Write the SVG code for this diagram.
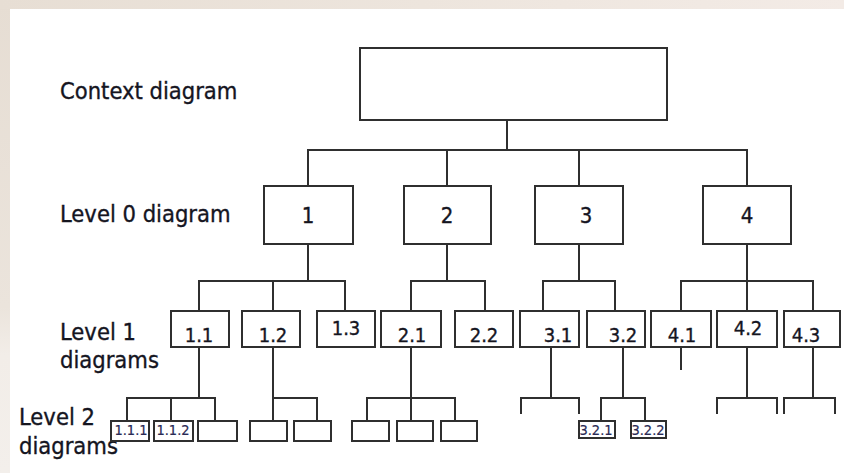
<svg xmlns="http://www.w3.org/2000/svg" width="844" height="473" viewBox="0 0 844 473">
  <defs>
    <linearGradient id="topStrip" x1="0" y1="0" x2="1" y2="0">
      <stop offset="0" stop-color="#e7ded4"/>
      <stop offset="0.5" stop-color="#ede5dd"/>
      <stop offset="1" stop-color="#f3ebe6"/>
    </linearGradient>
    <linearGradient id="leftStrip" x1="0" y1="0" x2="0" y2="1">
      <stop offset="0" stop-color="#e6ddd3"/>
      <stop offset="0.65" stop-color="#ebe4dc"/>
      <stop offset="0.75" stop-color="#f2ede8"/>
      <stop offset="1" stop-color="#f3efeb"/>
    </linearGradient>
    <style>
      .box { fill: #ffffff; stroke: #2f2f2f; stroke-width: 2; }
      .conn { fill: none; stroke: #2f2f2f; stroke-width: 2; stroke-linecap: square; }
      text { font-family: "DejaVu Sans", Verdana, sans-serif; font-stretch: condensed; fill: #15151f; stroke: #15151f; stroke-width: 0.35; }
      .side { font-size: 23.5px; }
      .l0 { font-size: 22px; text-anchor: middle; }
      .l1 { font-size: 20px; text-anchor: middle; }
      .l2 { font-size: 14.5px; text-anchor: middle; fill: #2a2a55; stroke: #2a2a55; stroke-width: 0.2; }
    </style>
  </defs>

  <!-- background -->
  <rect x="0" y="0" width="844" height="473" fill="url(#leftStrip)"/>
  <rect x="0" y="0" width="844" height="9" fill="url(#topStrip)"/>
  <rect x="10" y="9" width="834" height="464" fill="#ffffff"/>

  <!-- side labels -->
  <g id="level-labels">
    <text class="side" x="60" y="99">Context diagram</text>
    <text class="side" x="60" y="222">Level 0 diagram</text>
    <text class="side" x="60" y="340">Level 1</text>
    <text class="side" x="60" y="368">diagrams</text>
    <text class="side" x="19" y="425">Level 2</text>
    <text class="side" x="19" y="454">diagrams</text>
  </g>

  <!-- connectors -->
  <g id="connectors" class="conn">
    <path d="M507 120 V150 M308 150 H747 M308 150 V186 M447 150 V186 M579 150 V186 M747 150 V186"/>
    <path d="M308 244 V281 M199 281 H345 M199 281 V311 M273 281 V311 M345 281 V311"/>
    <path d="M447 244 V281 M411 281 H485 M411 281 V311 M485 281 V311"/>
    <path d="M579 244 V281 M543 281 H615 M543 281 V311 M615 281 V311"/>
    <path d="M747 244 V281 M681 281 H813 M681 281 V311 M747 281 V311 M813 281 V311"/>
    <path d="M199 347 V398 M127 398 H215 M127 398 V421 M171 398 V421 M215 398 V421"/>
    <path d="M273 347 V421 M273 398 H317 M317 398 V421"/>
    <path d="M411 347 V398 M367 398 H455 M367 398 V421 M411 398 V421 M455 398 V421"/>
    <path d="M551 347 V398 M521 398 H579 M521 398 V413 M579 398 V413"/>
    <path d="M623 347 V398 M601 398 H645 M601 398 V421 M645 398 V421"/>
    <path d="M681 347 V369"/>
    <path d="M747 347 V398 M717 398 H777 M717 398 V413 M777 398 V413"/>
    <path d="M813 347 V398 M784 398 H835 M784 398 V413 M835 398 V413"/>
  </g>

  <!-- context -->
  <g id="context"><rect class="box" x="360" y="48" width="307" height="72"/></g>

  <!-- level 0 -->
  <g id="n1"><rect class="box" x="264" y="186" width="89" height="58"/><text class="l0" x="308" y="223">1</text></g>
  <g id="n2"><rect class="box" x="404" y="186" width="87" height="58"/><text class="l0" x="447" y="223">2</text></g>
  <g id="n3"><rect class="box" x="535" y="186" width="88" height="58"/><text class="l0" x="586" y="223">3</text></g>
  <g id="n4"><rect class="box" x="703" y="186" width="88" height="58"/><text class="l0" x="747" y="223">4</text></g>

  <!-- level 1 -->
  <g id="n1-1"><rect class="box" x="171" y="311" width="58" height="36"/><text class="l1" x="199" y="342">1.1</text></g>
  <g id="n1-2"><rect class="box" x="242" y="311" width="58" height="36"/><text class="l1" x="273" y="342">1.2</text></g>
  <g id="n1-3"><rect class="box" x="317" y="311" width="58" height="36"/><text class="l1" x="346" y="335">1.3</text></g>
  <g id="n2-1"><rect class="box" x="381" y="311" width="60" height="36"/><text class="l1" x="412" y="342">2.1</text></g>
  <g id="n2-2"><rect class="box" x="455" y="311" width="58" height="36"/><text class="l1" x="484" y="342">2.2</text></g>
  <g id="n3-1"><rect class="box" x="520" y="311" width="59" height="36"/><text class="l1" x="558" y="342">3.1</text></g>
  <g id="n3-2"><rect class="box" x="587" y="311" width="58" height="36"/><text class="l1" x="623" y="342">3.2</text></g>
  <g id="n4-1"><rect class="box" x="651" y="311" width="60" height="36"/><text class="l1" x="682" y="342">4.1</text></g>
  <g id="n4-2"><rect class="box" x="717" y="311" width="60" height="36"/><text class="l1" x="748" y="335">4.2</text></g>
  <g id="n4-3"><rect class="box" x="784" y="311" width="56" height="36"/><text class="l1" x="806" y="342">4.3</text></g>

  <!-- level 2 -->
  <g id="n1-1-1"><rect class="box" x="111" y="421" width="38" height="20"/><text class="l2" x="131" y="435">1.1.1</text></g>
  <g id="n1-1-2"><rect class="box" x="154" y="421" width="39" height="20"/><text class="l2" x="173" y="435">1.1.2</text></g>
  <g id="n1-1-3"><rect class="box" x="198" y="421" width="39" height="20"/></g>
  <g id="n1-2-1"><rect class="box" x="250" y="421" width="37" height="20"/></g>
  <g id="n1-2-2"><rect class="box" x="294" y="421" width="37" height="20"/></g>
  <g id="n2-1-1"><rect class="box" x="352" y="421" width="37" height="20"/></g>
  <g id="n2-1-2"><rect class="box" x="397" y="421" width="36" height="20"/></g>
  <g id="n2-1-3"><rect class="box" x="441" y="421" width="36" height="20"/></g>
  <g id="n3-2-1"><rect class="box" x="579" y="421" width="36" height="17"/><text class="l2" x="596" y="435">3.2.1</text></g>
  <g id="n3-2-2"><rect class="box" x="631" y="421" width="35" height="17"/><text class="l2" x="648" y="435">3.2.2</text></g>
</svg>
